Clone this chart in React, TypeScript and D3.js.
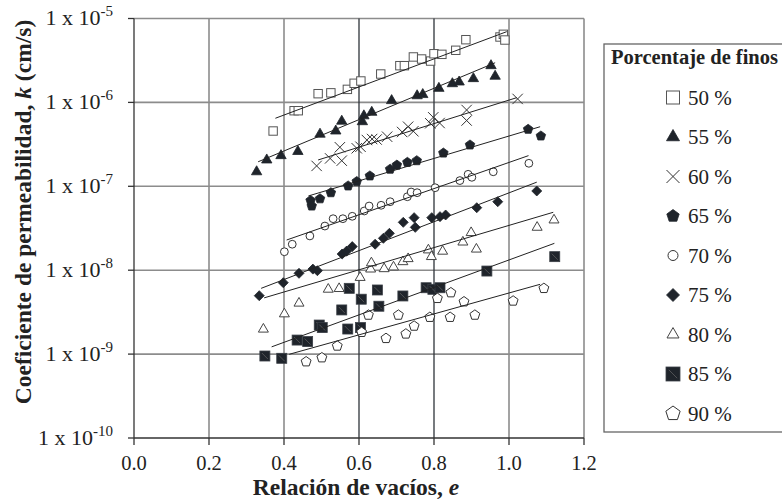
import React from 'react';
import * as d3 from 'd3';

// ---------- data ----------
const xTicks = [0, 0.2, 0.4, 0.6, 0.8, 1.0, 1.2];
const xTickLabels = ['0.0', '0.2', '0.4', '0.6', '0.8', '1.0', '1.2'];
const yTicks = [1e-10, 1e-9, 1e-8, 1e-7, 1e-6, 1e-5];
const yTickExponents = ['-10', '-9', '-8', '-7', '-6', '-5'];

const seriesLabels = ['50 %', '55 %', '60 %', '65 %', '70 %', '75 %', '80 %', '85 %', '90 %'];
const markerKinds = ['sqOpen', 'triFilled', 'cross', 'pentFilled', 'circOpen', 'diamond', 'triOpen', 'sqFilled', 'pentOpen'];

const e50 = [0.371, 0.427, 0.438, 0.491, 0.525, 0.569, 0.587, 0.605, 0.658, 0.709, 0.721, 0.745, 0.767, 0.791, 0.800, 0.821, 0.858, 0.885, 0.976, 0.985, 0.989];
const k50 = [4.56e-7, 7.96e-7, 7.96e-7, 1.27e-6, 1.30e-6, 1.43e-6, 1.69e-6, 1.80e-6, 2.18e-6, 2.74e-6, 2.74e-6, 3.48e-6, 3.29e-6, 3.11e-6, 3.80e-6, 3.74e-6, 4.18e-6, 5.59e-6, 6.02e-6, 6.48e-6, 5.54e-6];

const e55 = [0.327, 0.354, 0.392, 0.437, 0.496, 0.538, 0.554, 0.609, 0.613, 0.634, 0.687, 0.755, 0.770, 0.813, 0.849, 0.867, 0.905, 0.952, 0.963];
const k55 = [1.49e-7, 2.06e-7, 2.32e-7, 2.60e-7, 4.18e-7, 4.56e-7, 5.97e-7, 5.89e-7, 6.92e-7, 7.62e-7, 1.05e-6, 1.20e-6, 1.24e-6, 1.47e-6, 1.67e-6, 1.75e-6, 1.92e-6, 2.74e-6, 2.05e-6];

const e60 = [0.487, 0.523, 0.554, 0.549, 0.594, 0.604, 0.621, 0.635, 0.647, 0.675, 0.715, 0.731, 0.745, 0.790, 0.798, 0.815, 0.887, 0.887, 1.023];
const k60 = [1.75e-7, 2.15e-7, 2.02e-7, 2.92e-7, 2.84e-7, 2.96e-7, 3.56e-7, 3.66e-7, 3.61e-7, 3.90e-7, 4.44e-7, 5.13e-7, 4.53e-7, 5.64e-7, 6.64e-7, 5.68e-7, 8.12e-7, 6.08e-7, 1.10e-6];

const e65 = [0.471, 0.474, 0.496, 0.525, 0.571, 0.594, 0.629, 0.683, 0.701, 0.729, 0.754, 0.825, 0.896, 1.051, 1.085];
const k65 = [6.77e-8, 5.82e-8, 7.10e-8, 8.39e-8, 1.01e-7, 1.14e-7, 1.33e-7, 1.60e-7, 1.79e-7, 1.93e-7, 2.02e-7, 2.49e-7, 3.11e-7, 4.78e-7, 3.98e-7];

const e70 = [0.401, 0.422, 0.469, 0.509, 0.531, 0.557, 0.582, 0.614, 0.627, 0.659, 0.683, 0.729, 0.739, 0.755, 0.803, 0.869, 0.891, 0.901, 0.958, 1.053];
const k70 = [1.66e-8, 2.04e-8, 2.56e-8, 3.36e-8, 4.11e-8, 4.11e-8, 4.39e-8, 5.08e-8, 5.82e-8, 5.94e-8, 6.55e-8, 7.51e-8, 8.55e-8, 8.39e-8, 9.62e-8, 1.17e-7, 1.39e-7, 1.28e-7, 1.49e-7, 1.88e-7];

const e75 = [0.334, 0.398, 0.440, 0.477, 0.489, 0.555, 0.567, 0.582, 0.643, 0.665, 0.681, 0.718, 0.747, 0.750, 0.794, 0.816, 0.831, 0.914, 0.970, 1.074];
const k75 = [4.97e-9, 7.10e-9, 9.18e-9, 1.03e-8, 9.86e-9, 1.56e-8, 1.69e-8, 1.91e-8, 2.04e-8, 2.40e-8, 2.75e-8, 3.72e-8, 4.23e-8, 3.24e-8, 4.23e-8, 4.35e-8, 4.55e-8, 5.56e-8, 6.55e-8, 8.79e-8];

const e80 = [0.345, 0.401, 0.440, 0.518, 0.547, 0.603, 0.631, 0.633, 0.667, 0.692, 0.717, 0.731, 0.785, 0.793, 0.823, 0.877, 0.899, 0.913, 1.075, 1.120];
const k80 = [1.98e-9, 3.01e-9, 4.04e-9, 5.92e-9, 6.03e-9, 8.18e-9, 1.03e-8, 1.22e-8, 1.04e-8, 1.09e-8, 1.26e-8, 1.37e-8, 1.74e-8, 1.45e-8, 1.68e-8, 2.16e-8, 2.80e-8, 1.78e-8, 3.24e-8, 3.96e-8];

const e85 = [0.349, 0.394, 0.435, 0.463, 0.494, 0.502, 0.554, 0.570, 0.574, 0.604, 0.606, 0.649, 0.653, 0.717, 0.779, 0.797, 0.816, 0.941, 1.122];
const k85 = [9.49e-10, 8.91e-10, 1.47e-9, 1.41e-9, 2.22e-9, 2.07e-9, 3.36e-9, 1.99e-9, 6.08e-9, 2.07e-9, 4.51e-9, 5.81e-9, 3.72e-9, 4.93e-9, 6.18e-9, 5.92e-9, 6.18e-9, 9.77e-9, 1.45e-8];

const e90 = [0.459, 0.501, 0.542, 0.607, 0.625, 0.672, 0.705, 0.725, 0.747, 0.789, 0.809, 0.845, 0.843, 0.880, 0.909, 1.011, 1.093];
const k90 = [8.12e-10, 9.06e-10, 1.25e-9, 1.82e-9, 2.92e-9, 1.54e-9, 2.92e-9, 1.74e-9, 2.16e-9, 2.75e-9, 4.62e-9, 5.40e-9, 2.75e-9, 4.21e-9, 2.92e-9, 4.30e-9, 6.08e-9];

// trend lines: start e, end e, start k, end k
const trendE0 = [0.377, 0.331, 0.491, 0.465, 0.407, 0.339, 0.347, 0.367, 0.414];
const trendE1 = [0.994, 0.963, 1.021, 1.083, 1.052, 1.074, 1.118, 1.121, 1.083];
const trendK0 = [6.47e-7, 1.96e-7, 2.06e-7, 7.67e-8, 2.29e-8, 6.08e-9, 4.68e-9, 1.22e-9, 9.95e-10];
const trendK1 = [6.97e-6, 2.97e-6, 1.14e-6, 5.13e-7, 2.32e-7, 1.12e-7, 4.90e-8, 2.09e-8, 6.79e-9];

const seriesE = [e50, e55, e60, e65, e70, e75, e80, e85, e90];
const seriesK = [k50, k55, k60, k65, k70, k75, k80, k85, k90];

// ---------- layout ----------
const W = 782, H = 504;
const PL = 134, PR = 584, PT = 18.5, PB = 438;
const FONT = "'Liberation Serif', 'Times New Roman', serif";
const DARK = '#1f242b';
const GRID = '#8c8c8c';

const x = d3.scaleLinear().domain([0, 1.2]).range([PL, PR]);
const y = d3.scaleLog().domain([1e-10, 1e-5]).range([PB, PT]);

const plotSize: Record<string, number> = {
  sqOpen: 4.2, triFilled: 5.2, cross: 5.2, pentFilled: 5, circOpen: 3.9,
  diamond: 5, triOpen: 5, sqFilled: 5, pentOpen: 5.2,
};
const legendSize: Record<string, number> = {
  sqOpen: 6.5, triFilled: 6.5, cross: 6.5, pentFilled: 6.5, circOpen: 5,
  diamond: 6.5, triOpen: 6, sqFilled: 7, pentOpen: 7.5,
};

function polyPoints(cx: number, cy: number, r: number, n: number): string {
  const pts: string[] = [];
  for (let i = 0; i < n; i++) {
    const a = -Math.PI / 2 + (i * 2 * Math.PI) / n;
    pts.push(`${cx + r * Math.cos(a)},${cy + r * Math.sin(a)}`);
  }
  return pts.join(' ');
}

function triPoints(cx: number, cy: number, s: number): string {
  const h = s * Math.sqrt(3);
  return `${cx},${cy - (2 * h) / 3} ${cx + s},${cy + h / 3} ${cx - s},${cy + h / 3}`;
}

function Marker({ kind, cx, cy, s }: { kind: string; cx: number; cy: number; s: number }) {
  switch (kind) {
    case 'sqOpen':
      return <rect x={cx - s} y={cy - s} width={2 * s} height={2 * s} fill="#fff" stroke="#555" strokeWidth={1} />;
    case 'triFilled':
      return <polygon points={triPoints(cx, cy, s)} fill={DARK} stroke={DARK} strokeWidth={0.8} />;
    case 'cross':
      return (
        <g stroke="#333" strokeWidth={1}>
          <line x1={cx - s} y1={cy - s} x2={cx + s} y2={cy + s} />
          <line x1={cx - s} y1={cy + s} x2={cx + s} y2={cy - s} />
        </g>
      );
    case 'pentFilled':
      return <polygon points={polyPoints(cx, cy, s, 5)} fill={DARK} stroke={DARK} strokeWidth={0.8} />;
    case 'circOpen':
      return <circle cx={cx} cy={cy} r={s} fill="#fff" stroke="#333" strokeWidth={1} />;
    case 'diamond':
      return <polygon points={`${cx},${cy - s} ${cx + s},${cy} ${cx},${cy + s} ${cx - s},${cy}`} fill={DARK} stroke={DARK} strokeWidth={0.8} />;
    case 'triOpen':
      return <polygon points={triPoints(cx, cy, s)} fill="#fff" stroke="#444" strokeWidth={1} />;
    case 'sqFilled':
      return (
        <g>
          <rect x={cx - s} y={cy - s} width={2 * s} height={2 * s} fill={DARK} stroke="#3a3f46" strokeWidth={0.8} />
          <line x1={cx - s * 0.6} y1={cy - s * 0.6} x2={cx + s * 0.6} y2={cy + s * 0.6} stroke="#666" strokeWidth={0.7} />
        </g>
      );
    case 'pentOpen':
      return <polygon points={polyPoints(cx, cy, s, 5)} fill="#fff" stroke="#333" strokeWidth={1} />;
    default:
      return null;
  }
}

export default function App() {
  const legendY0 = 97.5;
  const legendStep = 39.5;
  return (
    <svg width={W} height={H} viewBox={`0 0 ${W} ${H}`} style={{ position: 'absolute', left: 0, top: 0, background: '#fff' }}>
      <rect x={0} y={0} width={W} height={H} fill="#fff" />
      {/* horizontal gridlines */}
      {yTicks.slice(1).map((t, i) => (
        <line key={'hg' + i} x1={PL} x2={PR} y1={y(t)} y2={y(t)} stroke={GRID} strokeWidth={1.6} />
      ))}
      {/* vertical gridlines */}
      {xTicks.slice(1).map((t, i) => {
        const dark = Math.abs(t - 0.6) < 1e-9 || Math.abs(t - 0.8) < 1e-9;
        return (
          <line key={'vg' + i} x1={x(t)} x2={x(t)} y1={PT} y2={PB} stroke={dark ? '#2e333a' : GRID} strokeWidth={dark ? 1.3 : 1.6} />
        );
      })}
      {/* axes */}
      <line x1={PL} x2={PL} y1={PT} y2={PB} stroke="#333" strokeWidth={1.3} />
      <line x1={PL} x2={PR} y1={PB} y2={PB} stroke="#333" strokeWidth={1.3} />
      {xTicks.map((t, i) => (
        <line key={'xt' + i} x1={x(t)} x2={x(t)} y1={PB} y2={PB + 7} stroke="#333" strokeWidth={1.3} />
      ))}
      {yTicks.map((t, i) => (
        <line key={'yt' + i} x1={PL - 6} x2={PL} y1={y(t)} y2={y(t)} stroke="#333" strokeWidth={1.3} />
      ))}
      {/* x tick labels */}
      {xTicks.map((t, i) => (
        <text key={'xl' + i} x={x(t)} y={470} textAnchor="middle" fontFamily={FONT} fontSize={20.5} fill="#222">
          {xTickLabels[i]}
        </text>
      ))}
      {/* y tick labels */}
      {yTicks.map((t, i) => (
        <text key={'yl' + i} x={113} y={y(t) + 6.5} textAnchor="end" fontFamily={FONT} fontSize={22} fill="#222">
          {'1 x 10'}
          <tspan fontSize={15} dy={-9}>{yTickExponents[i]}</tspan>
        </text>
      ))}
      {/* axis titles */}
      <text x={356} y={495} textAnchor="middle" fontFamily={FONT} fontSize={23.5} fontWeight="bold" fill="#222">
        {'Relación de vacíos, '}
        <tspan fontStyle="italic">e</tspan>
      </text>
      <text transform={`translate(31, 212) rotate(-90)`} textAnchor="middle" fontFamily={FONT} fontSize={23.5} fontWeight="bold" fill="#222">
        {'Coeficiente de permeabilidad, '}
        <tspan fontStyle="italic">k</tspan>
        {' (cm/s)'}
      </text>
      {/* markers */}
      {seriesE.map((es, si) => (
        <g key={'s' + si}>
          {es.map((ev, pi) => (
            <Marker key={pi} kind={markerKinds[si]} cx={x(ev)} cy={y(seriesK[si][pi])} s={plotSize[markerKinds[si]]} />
          ))}
        </g>
      ))}
      {/* trend lines */}
      {trendE0.map((e0, i) => (
        <line key={'tl' + i} x1={x(e0)} y1={y(trendK0[i])} x2={x(trendE1[i])} y2={y(trendK1[i])} stroke="#222" strokeWidth={1} />
      ))}
      {/* legend */}
      <rect x={604} y={44} width={200} height={388} fill="#fff" stroke="#666" strokeWidth={1.3} />
      <text x={611} y={64} fontFamily={FONT} fontSize={20.5} fontWeight="bold" fill="#222">Porcentaje de finos</text>
      {seriesLabels.map((lab, i) => {
        const cy = legendY0 + i * legendStep;
        return (
          <g key={'lg' + i}>
            <Marker kind={markerKinds[i]} cx={673} cy={cy} s={legendSize[markerKinds[i]]} />
            <text x={688} y={cy + 7} fontFamily={FONT} fontSize={21} fill="#222">{lab}</text>
          </g>
        );
      })}
    </svg>
  );
}
